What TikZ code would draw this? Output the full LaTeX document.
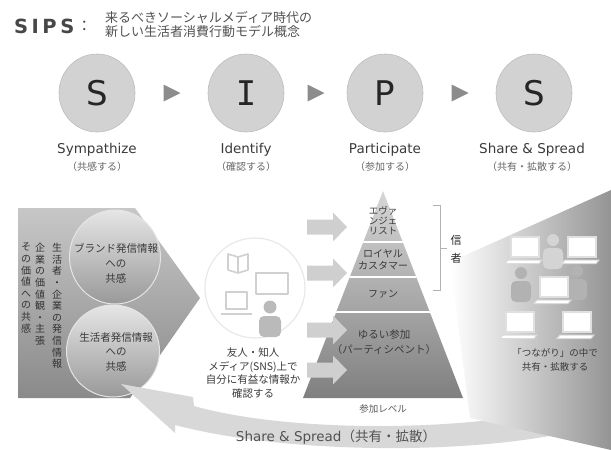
\documentclass[tikz,border=0pt]{standalone}
\usepackage{fontspec}
\setmainfont{DejaVu Sans}
\newfontfamily\jp{Noto Sans CJK JP}
\newfontfamily\slabI{DejaVu Sans Mono}
\usetikzlibrary{shapes.geometric,calc}
\definecolor{ink}{HTML}{3A3A3A}
\definecolor{phasefill}{HTML}{D2D2D2}
\definecolor{phaseedge}{HTML}{BDBDBD}
\definecolor{tipgray}{HTML}{8C8C8C}
\definecolor{pale}{HTML}{D8D8D8}
\definecolor{iconline}{HTML}{D0D0D0}
\begin{document}
\begin{tikzpicture}[x=1pt,y=-1pt,
  phase/.style={ellipse, draw=phaseedge, line width=0.6pt, fill=phasefill,
    minimum width=76pt, minimum height=78pt, inner sep=0pt,
    font=\fontsize{34}{34}\selectfont, text=black!85},
  phasename/.style={font=\fontsize{13.5}{14}\selectfont, text=ink, inner sep=0pt},
  phasejp/.style={font=\jp\fontsize{10}{11}\selectfont, text=black!60, inner sep=0pt},
  jptext/.style={font=\jp\fontsize{10.5}{13.5}\selectfont, text=ink, align=center, inner sep=0pt},
  vjp/.style={font=\jp\fontsize{10}{11.6}\selectfont, text=black!80, align=center, inner sep=0pt, anchor=north},
  bubble/.style={ellipse, draw=black!10, line width=1pt, top color=black!10, bottom color=black!40, inner sep=0pt},
  iconln/.style={draw=iconline, line width=1.6pt, line join=round},
  blockarrow/.style={fill=black!19},
  laptop/.pic={
    \draw[draw=black!12, line width=1.2pt, fill=white] (-14,-11) rectangle (14,9);
    \draw[draw=black!14, line width=1pt, fill=white] (-17,12) -- (17,12) -- (14,15.5) -- (-20,15.5) -- cycle;
  },
  person/.pic={
    \fill (0,-10) circle (6);
    \fill[rounded corners=5pt] (-10,-2) rectangle (10,19);
  }
]
\useasboundingbox (0,0) rectangle (611,450);

% ---------- title ----------
\node[anchor=west, inner sep=0pt, font=\bfseries\fontsize{19.5}{20}\selectfont, text=black!72]
  (sips) at (14,26) {\addfontfeature{LetterSpace=18}SIPS};
\node[anchor=west, inner sep=0pt, font=\jp\fontsize{15}{15}\selectfont, text=black!72]
  (colon) at ([xshift=2pt]sips.east) {：};
\node[anchor=north west, inner sep=0pt, align=left, font=\jp\fontsize{13}{14.5}\selectfont, text=black!68]
  (subtitle) at (105,11) {来るべきソーシャルメディア時代の\\新しい生活者消費行動モデル概念};

% ---------- the four phases ----------
\node[phase] (s1) at (97,93) {S};
\node[phase] (i1) at (246,93) {\slabI I};
\node[phase] (p1) at (385,93) {P};
\node[phase] (s2) at (534,93) {S};
\foreach \a/\b in {s1/i1, i1/p1, p1/s2}
  \fill[tipgray] ($(\a)!0.5!(\b)+(-8,-8.5)$) -- ++(17,8.5) -- ++(-17,8.5) -- cycle;

\node[phasename] (s1n) at (97,150) {Sympathize};
\node[phasejp]   (s1j) at (97,167) {（共感する）};
\node[phasename] (i1n) at (246,150) {Identify};
\node[phasejp]   (i1j) at (246,167) {（確認する）};
\node[phasename] (p1n) at (385,150) {Participate};
\node[phasejp]   (p1j) at (385,167) {（参加する）};
\node[phasename] (s2n) at (532,150) {Share \& Spread};
\node[phasejp]   (s2j) at (532,167) {（共有・拡散する）};

% ---------- left block: sympathy ----------
\shade[top color=black!22, bottom color=black!46]
  (18,208) -- (135,208) -- (200,298) -- (130,398) -- (18,398) -- cycle;
\node[vjp] (colR) at (57,243) {生\\活\\者\\・\\企\\業\\の\\発\\信\\情\\報};
\node[vjp] (colM) at (40,243) {企\\業\\の\\価\\値\\観\\・\\主\\張};
\node[vjp] (colL) at (26,243) {そ\\の\\価\\値\\へ\\の\\共\\感};
\node[bubble, minimum width=91pt, minimum height=94pt] (brand) at (115,257) {};
\node[bubble, minimum width=93pt, minimum height=92pt] (users) at (113,351) {};
\node[jptext, font=\jp\fontsize{10.5}{15}\selectfont] (brandtxt) at (116,263) {ブランド発信情報\\への\\共感};
\node[jptext, font=\jp\fontsize{10.5}{14.5}\selectfont] (userstxt) at (116,352) {生活者発信情報\\への\\共感};

% ---------- share & spread return arrow ----------
\fill[pale] (611,420) .. controls (520,455) and (300,458) .. (175,425)
  -- (175,433) -- (121,384) -- (193,397) -- (194,406)
  .. controls (300,436) and (510,432) .. (600,396) -- cycle;
\node[inner sep=0pt, text=black!68, font=\fontsize{13.5}{14}\selectfont] (spread) at (336,437)
  {Share \& Spread{\jp （共有・拡散）}};

% ---------- spreading fan on the right ----------
\shade[left color=white, right color=black!42]
  (450,262) -- (611,190) -- (611,450) -- (470,418) -- cycle;
\pic[color=black!17] at (553,250) {person};
\pic at (525,248) {laptop};
\pic at (582,248) {laptop};
\pic[color=black!30] at (521,283) {person};
\pic[color=black!30] at (577,281) {person};
\pic at (554,288) {laptop};
\pic at (520,323) {laptop};
\pic at (577,323) {laptop};
\node[jptext, font=\jp\fontsize{9.5}{14}\selectfont] (fantxt) at (555,360) {「つながり」の中で\\共有・拡散する};

% ---------- participation pyramid ----------
\shade[top color=black!16, bottom color=black!50] (383,191) -- (463,398) -- (303,398) -- cycle;
\begin{scope}
  \clip (383,191) -- (463,398) -- (303,398) -- cycle;
  \foreach \y in {242,277,312}
    \draw[white, line width=2.2pt] (290,\y) -- (470,\y);
\end{scope}
\node[jptext, font=\jp\fontsize{9.5}{10}\selectfont] (evangel) at (383,221) {エヴァ\\ンジェ\\リスト};
\node[jptext, font=\jp\fontsize{10}{12.5}\selectfont] (loyal) at (383,260) {ロイヤル\\カスタマー};
\node[jptext, font=\jp\fontsize{10}{12}\selectfont] (fan) at (383,294) {ファン};
\node[jptext, font=\jp\fontsize{10.5}{15}\selectfont] (light) at (384,342) {ゆるい参加\\（パーティシペント）};
\node[jptext, font=\jp\fontsize{9.5}{10}\selectfont, text=black!65] (level) at (383,409) {参加レベル};

\draw[black!30, line width=0.9pt] (433,205) -- (440,205) -- (440,290) -- (433,290);
\draw[black!30, line width=0.9pt] (440,248) -- (447,248);
\node[jptext, font=\jp\fontsize{11}{18}\selectfont, text=black!85] (believer) at (456,249) {信\\者};

\foreach \y in {227,273,330,370}
  \fill[blockarrow] (307,\y-7.5) -- (333,\y-7.5) -- (333,\y-14.5) -- (347,\y)
    -- (333,\y+14.5) -- (333,\y+7.5) -- (307,\y+7.5) -- cycle;

% ---------- identify: media devices ----------
\node[circle, draw=black!9, line width=1.2pt, minimum size=100pt, inner sep=0pt] (devices) at (255,288) {};
\draw[iconln, fill=white] (228,254) -- (238,257) -- (248,254) -- (248,270) -- (238,273) -- (228,270) -- cycle;
\draw[iconln] (238,257) -- (238,273);
\draw[iconln, fill=white, line width=2pt] (256,273) rectangle (288,294);
\draw[iconln, fill=white] (226,292) rectangle (247,309);
\draw[iconln, line width=2pt] (221,314) -- (252,314);
\fill[black!27] (270,307) circle (6.5);
\fill[black!27, rounded corners=5pt] (259,316) rectangle (281,337);
\node[jptext] (viewtxt) at (253,373) {友人・知人\\メディア(SNS)上で\\自分に有益な情報か\\確認する};

\end{tikzpicture}
\end{document}
